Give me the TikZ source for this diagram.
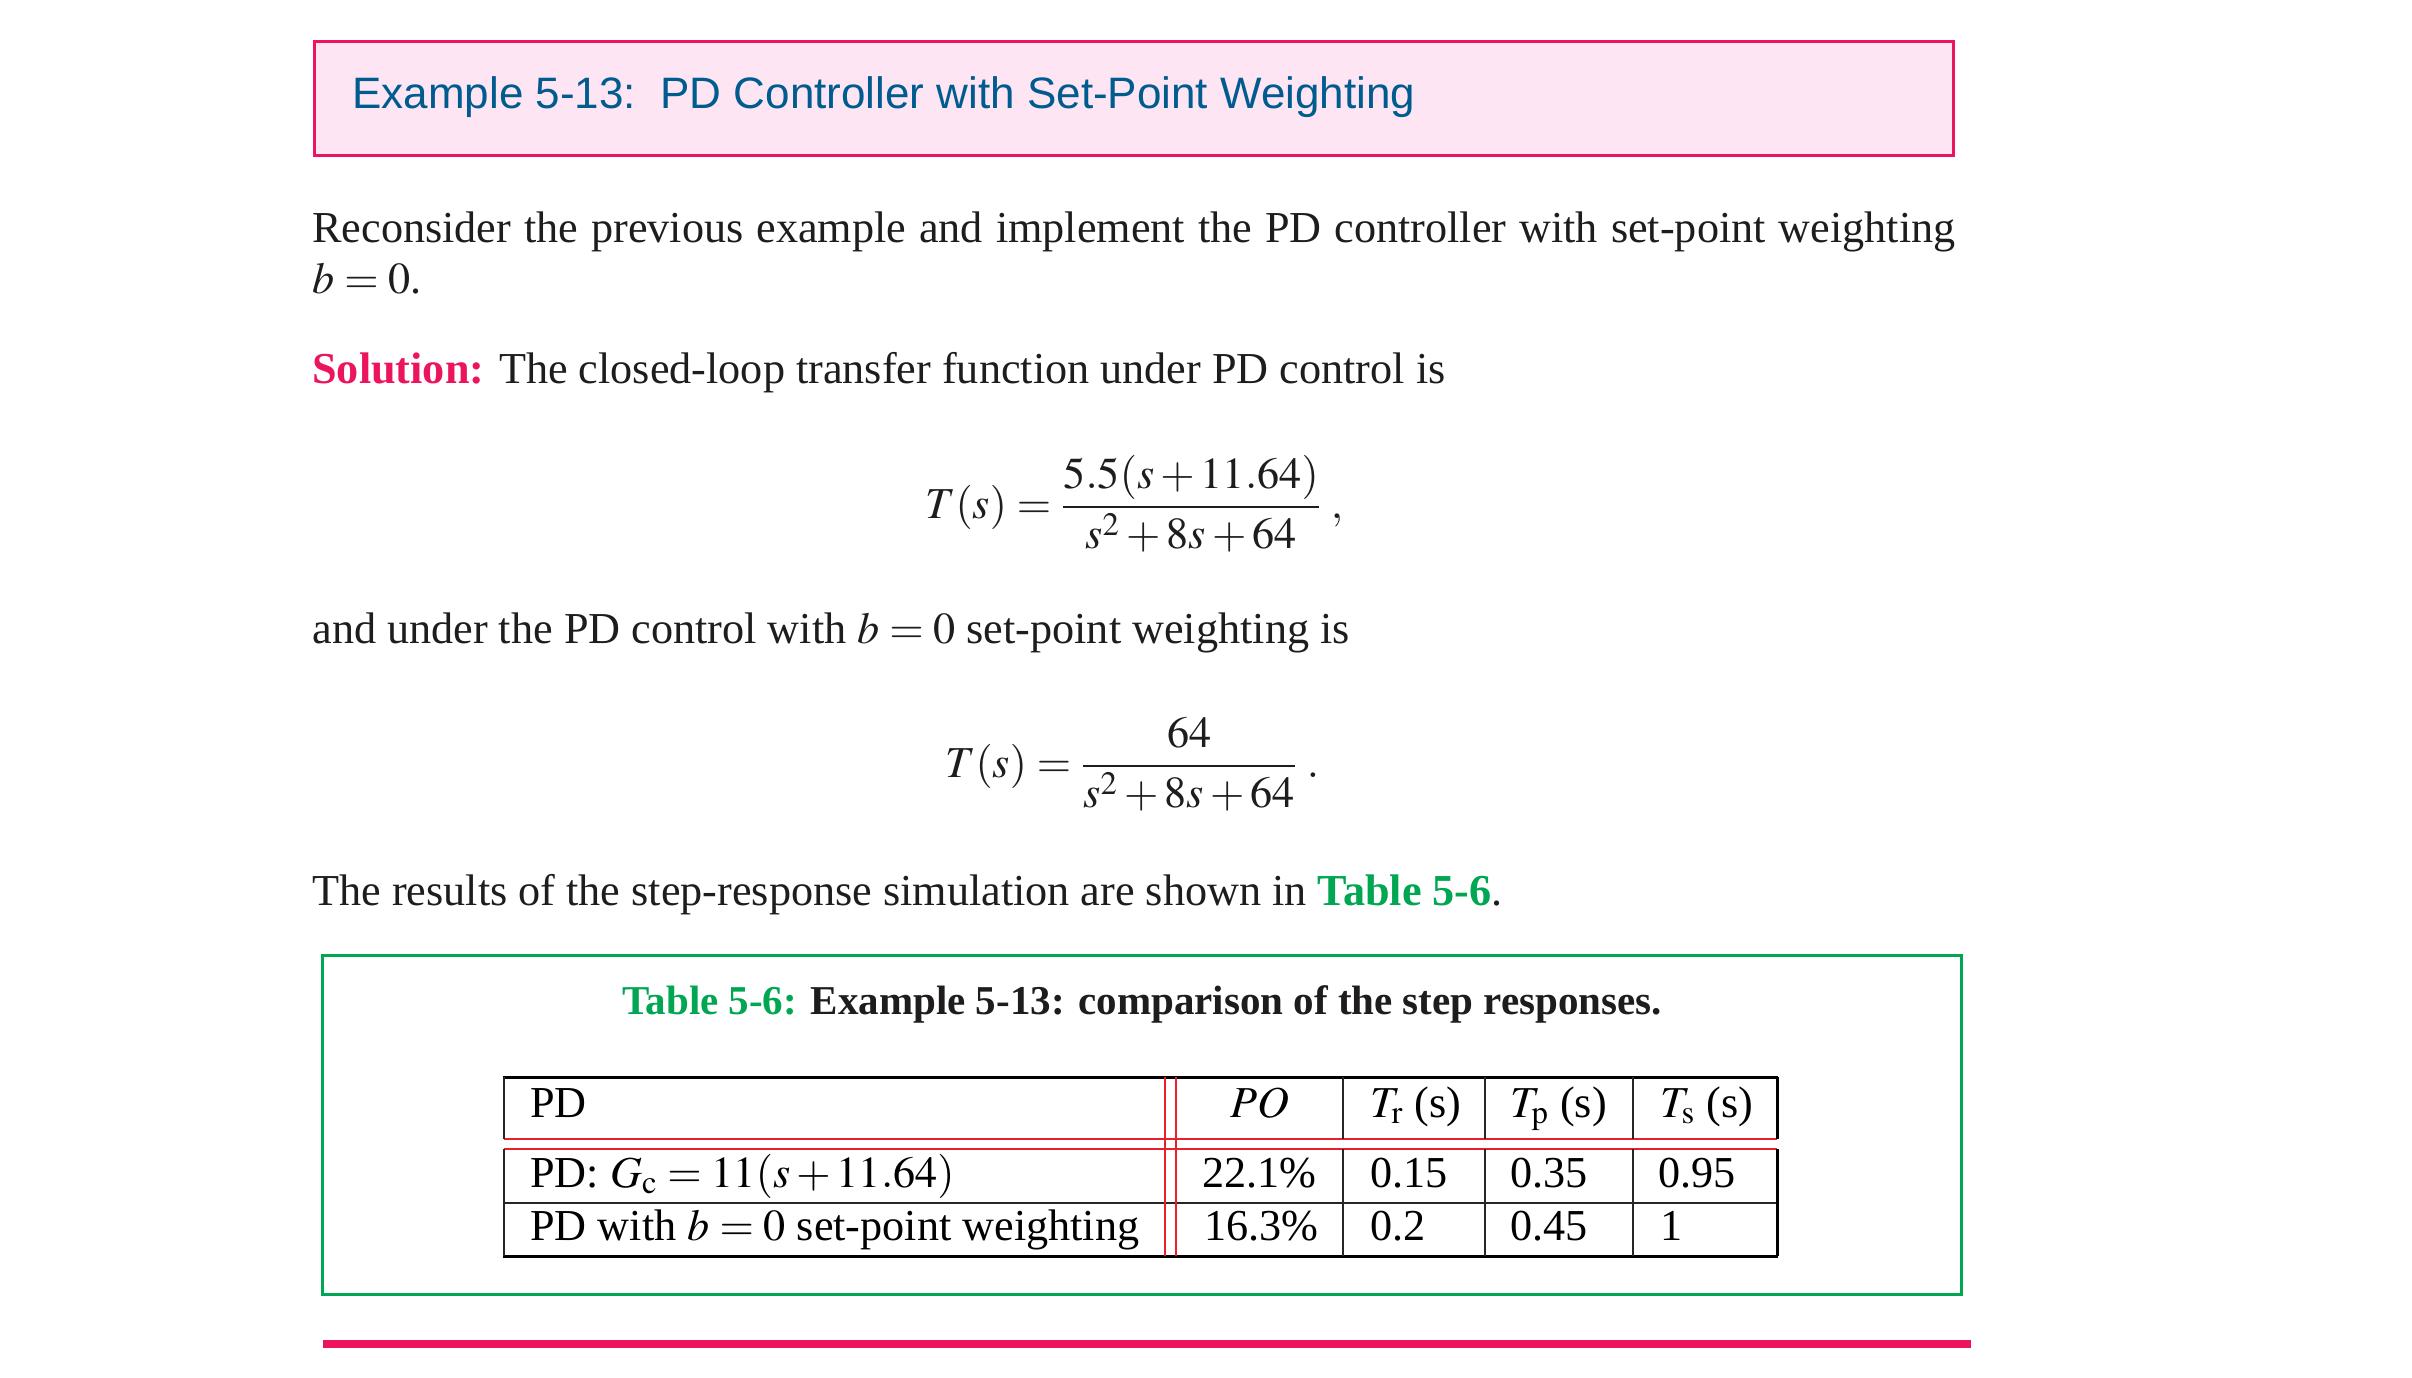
\documentclass[tikz,border=0pt]{standalone}
\usepackage{mathptmx}
\usepackage{fontspec}
\setmainfont{Liberation Serif}
\newfontfamily\headfont{Liberation Sans}
\definecolor{pinkred}{RGB}{236,20,94}
\definecolor{pinkfill}{RGB}{253,229,243}
\definecolor{headblue}{RGB}{0,91,142}
\definecolor{tabgreen}{RGB}{0,166,81}
\definecolor{tabred}{RGB}{232,32,42}
\definecolor{ink}{RGB}{30,28,28}
\tikzset{
  bodytxt/.style={anchor=base west, inner sep=0pt, text=ink, font=\fontsize{22.1}{26}\selectfont},
  celltxt/.style={anchor=base west, inner sep=0pt, text=black, font=\fontsize{22.1}{26}\selectfont},
  thickrule/.style={line width=1.5pt, draw=black},
  thinrule/.style={line width=1pt, draw=black!85},
  redrule/.style={line width=1pt, draw=tabred},
  redvert/.style={line width=0.7pt, draw=tabred}
}
\begin{document}
\begin{tikzpicture}[x=0.5pt,y=-0.5pt]
\useasboundingbox (0,0) rectangle (2412,1377);
% heading box
\node (hbox) [draw=pinkred, fill=pinkfill, line width=1.5pt, anchor=north west,
  minimum width=819.5pt, minimum height=57pt, inner sep=0pt] at (313,40) {};
\node (htitle) [anchor=base west, inner sep=0pt, text=headblue,
  font=\headfont\fontsize{22}{26}\selectfont] at (352,108)
  {Example 5-13:\ \ PD Controller with Set-Point Weighting};
% body
\node (l1) [bodytxt] at (312,242) {\makebox[821.5pt][s]{Reconsider the previous example and implement the PD controller with set-point weighting}};
\node (l2) [bodytxt] at (312,293) {$b=0$.};
\node (l3) [bodytxt] at (312,383) {\textbf{\color{pinkred}Solution:} The closed-loop transfer function under PD control is};
\node (eq1) [bodytxt] at (925,518) {$\displaystyle T(s)=\frac{5.5(s+11.64)}{s^2+8s+64}\;,$};
\node (l4) [bodytxt] at (312,643) {and under the PD control with $b=0$ set-point weighting is};
\node (eq2) [bodytxt] at (945,777) {$\displaystyle T(s)=\frac{64}{s^2+8s+64}\;.$};
\node (l5) [bodytxt] at (312,905) {The results of the step-response simulation are shown in \textbf{\color{tabgreen}Table 5-6}.};
% table frame
\node (tbox) [draw=tabgreen, line width=1.5pt, anchor=north west,
  minimum width=819.5pt, minimum height=169.5pt, inner sep=0pt] at (321,954) {};
\node (cap) [anchor=base, inner sep=0pt, text=ink, font=\fontsize{20.5}{24}\selectfont\bfseries] at (1142,1014)
  {{\color{tabgreen}Table 5-6:} Example 5-13: comparison of the step responses.};
% table rules
\draw[thickrule] (503,1077) -- (1778,1077);
\draw[thickrule] (503,1256) -- (1778,1256);
\draw[thinrule] (504,1203) -- (1777,1203);
\draw[redrule] (504,1139) -- (1777,1139);
\draw[redrule] (504,1149) -- (1777,1149);
\foreach \xx in {504,1343,1485,1633} {
  \draw[thinrule] (\xx,1077) -- (\xx,1139);
  \draw[thinrule] (\xx,1149) -- (\xx,1256);
}
\draw[thickrule] (1777,1077) -- (1777,1139);
\draw[thickrule] (1777,1149) -- (1777,1256);
\draw[redvert] (1165,1077) -- (1165,1256);
\draw[redvert] (1176,1077) -- (1176,1256);
% header
\node (h1) [celltxt] at (530,1117) {PD};
\node (h2) [celltxt] at (1230,1117) {$PO$};
\node (h3) [celltxt] at (1370,1117) {$T_{\mathrm{r}}$ (s)};
\node (h4) [celltxt] at (1510,1117) {$T_{\mathrm{p}}$ (s)};
\node (h5) [celltxt] at (1660,1117) {$T_{\mathrm{s}}$ (s)};
% row 1
\node (a1) [celltxt] at (530,1187) {PD: $G_{\mathrm{c}}=11(s+11.64)$};
\node (a2) [celltxt] at (1202,1187) {22.1\%};
\node (a3) [celltxt] at (1370,1187) {0.15};
\node (a4) [celltxt] at (1510,1187) {0.35};
\node (a5) [celltxt] at (1658,1187) {0.95};
% row 2
\node (b1) [celltxt] at (530,1240) {PD with $b=0$ set-point weighting};
\node (b2) [celltxt] at (1204,1240) {16.3\%};
\node (b3) [celltxt] at (1370,1240) {0.2};
\node (b4) [celltxt] at (1510,1240) {0.45};
\node (b5) [celltxt] at (1660,1240) {1};
% bottom rule
\coordinate (bl) at (323,1344);
\coordinate (br) at (1971,1344);
\draw[pinkred, line width=4pt] (bl) -- (br);
\end{tikzpicture}
\end{document}
